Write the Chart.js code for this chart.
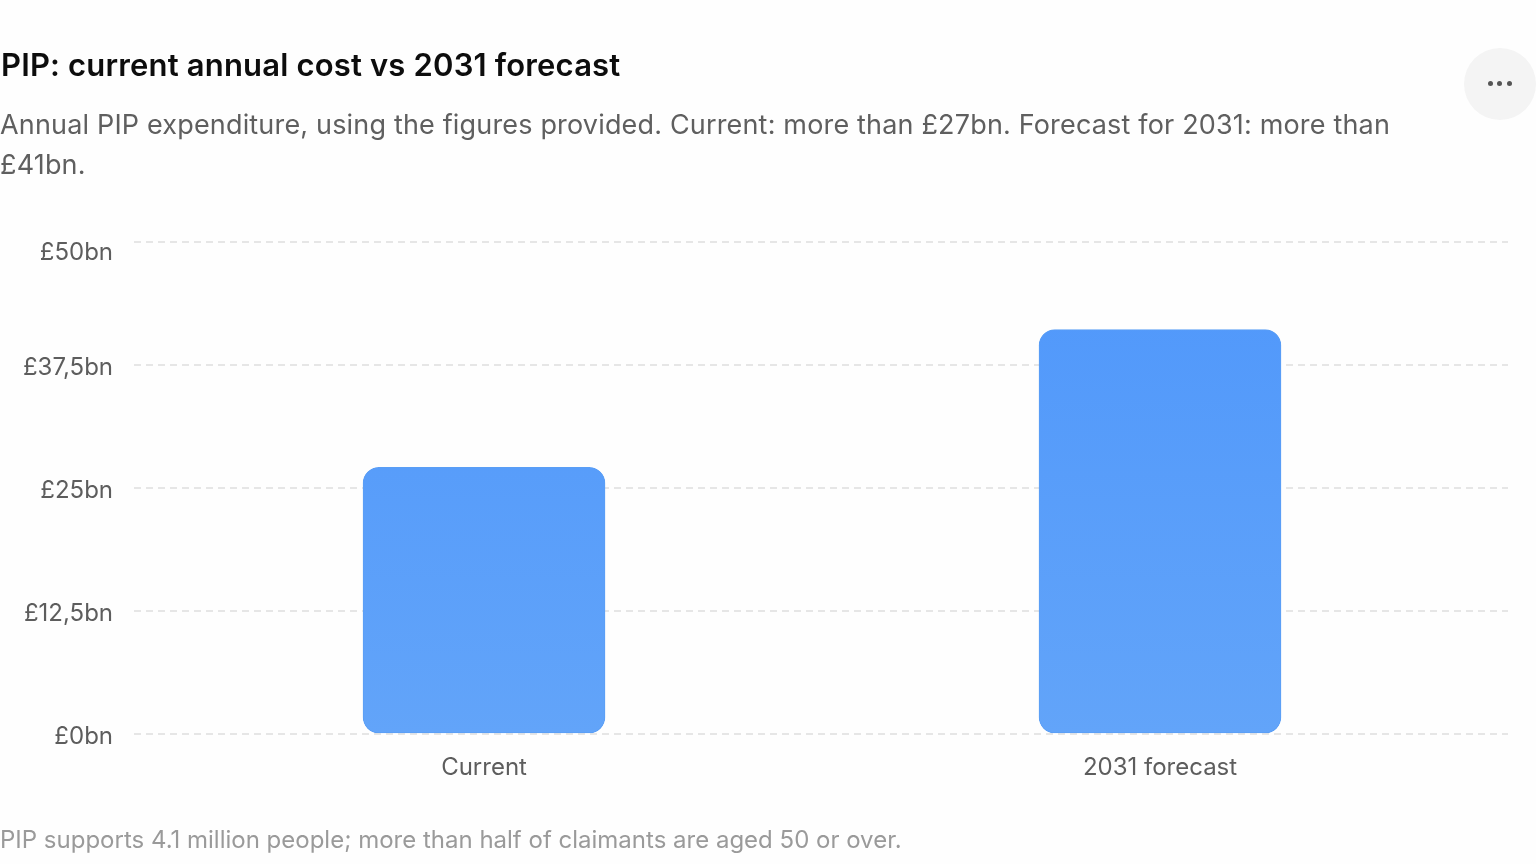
<!DOCTYPE html>
<html>
<head>
<meta charset="utf-8">
<title>PIP cost</title>
<script src="https://cdn.jsdelivr.net/npm/chart.js@4"></script>
<style>
  html, body { margin: 0; padding: 0; background: #fefefe; }
  body { width: 1536px; height: 864px; position: relative; overflow: hidden; font-family: Inter, "Open Sans", sans-serif; }
  h1 { position: absolute; left: 1px; top: 45px; margin: 0; font-size: 31px; line-height: 40px; font-weight: 600; letter-spacing: 0.17px; color: #0d0d0d; white-space: nowrap; }
  .sub { position: absolute; left: 0; top: 105px; width: 1420px; margin: 0; font-size: 27px; line-height: 40px; letter-spacing: 0.17px; color: #5f5f5f; }
  .note { position: absolute; left: 0; top: 824px; margin: 0; font-size: 24px; line-height: 32px; color: #9a9a9a; white-space: nowrap; }
  .more { position: absolute; left: 1464px; top: 48px; width: 72px; height: 72px; border-radius: 50%; background: #f4f4f4; color: #555; }
  .more i { position: absolute; top: 33px; width: 5px; height: 5px; border-radius: 50%; background: #555; }
  canvas { position: absolute; left: 0; top: 0; }
</style>
</head>
<body>
<canvas id="chart" width="1536" height="864"></canvas>
<h1>PIP: current annual cost vs 2031 forecast</h1>
<p class="sub">Annual PIP expenditure, using the figures provided. Current: more than £27bn. Forecast for 2031: more than £41bn.</p>
<p class="note">PIP supports 4.1 million people; more than half of claimants are aged 50 or over.</p>
<div class="more"><i style="left:24px"></i><i style="left:33px"></i><i style="left:43px"></i></div>
<script>
const categories = ["Current", "2031 forecast"];
const values = [27.1, 41.1];
const yTicks = [0, 12.5, 25, 37.5, 50];
const yLabels = ["£0bn", "£12,5bn", "£25bn", "£37,5bn", "£50bn"];

function barFill(context) {
  const area = context.chart.chartArea;
  if (!area) return "#5a9ef9";
  const g = context.chart.ctx.createLinearGradient(0, area.top, 0, area.bottom);
  g.addColorStop(0, "#4f97fb");
  g.addColorStop(1, "#62a4f9");
  return g;
}

new Chart(document.getElementById("chart"), {
  type: "bar",
  data: {
    datasets: [{
      data: values.map((v, i) => ({ x: i, y: v })),
      backgroundColor: barFill,
      borderColor: "#5a9ef5",
      borderWidth: 1,
      borderRadius: 16,
      borderSkipped: false,
      barThickness: 242
    }]
  },
  options: {
    responsive: false,
    animation: false,
    layout: { padding: { left: 0, right: 28, top: 242, bottom: 0 } },
    plugins: { legend: { display: false }, tooltip: { enabled: false } },
    scales: {
      x: {
        type: "linear",
        offset: false,
        min: -0.5178,
        max: 1.5148,
        grid: { display: false },
        border: { display: false },
        afterBuildTicks: s => { s.ticks = categories.map((c, i) => ({ value: i })); },
        afterFit: s => { s.height = 130; },
        ticks: {
          autoSkip: false,
          maxRotation: 0,
          padding: 11,
          color: "#5d5d5d",
          font: { family: "Inter", size: 24 },
          callback: v => categories[v]
        }
      },
      y: {
        min: 0,
        max: 50,
        afterBuildTicks: s => { s.ticks = yTicks.map(v => ({ value: v })); },
        afterFit: s => { s.width = 134; },
        grid: { color: "#e6e6e6", lineWidth: 2, drawTicks: false },
        border: { display: false, dash: [7, 5] },
        ticks: {
          padding: 21,
          color: "#5d5d5d",
          font: { family: "Inter", size: 24, lineHeight: 5.5 / 24 },
          // blank lines above push the label below its grid line, as in the original
          callback: v => {
            const label = yLabels[yTicks.indexOf(v)];
            return v === 50 ? ["", "", "", "", label] : ["", label];
          }
        }
      }
    }
  }
});
</script>
</body>
</html>
